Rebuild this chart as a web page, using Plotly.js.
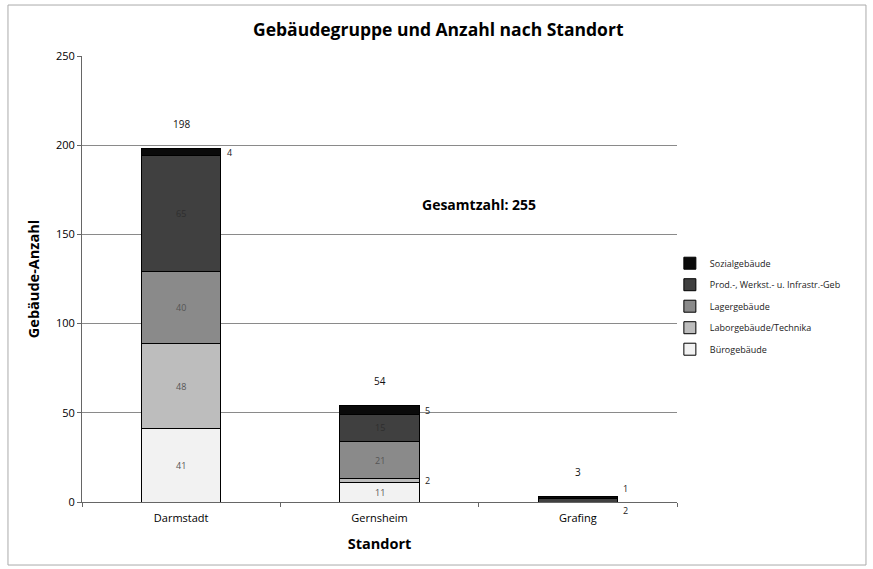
<!DOCTYPE html>
<html><head><meta charset="utf-8">
<script src="https://cdn.plot.ly/plotly-3.0.1.min.js"></script>
<style>html,body{margin:0;padding:0;background:#fff;}#chart{width:873px;height:569px;}</style>
</head><body><div id="chart"></div>
<script>
const standorte = ["Darmstadt", "Gernsheim", "Grafing"];
const buero = [41, 11, 0];
const labor = [48, 2, 0];
const lager = [40, 21, 0];
const prod = [65, 15, 2];
const sozial = [4, 5, 1];
const seriesNames = ["Bürogebäude", "Laborgebäude/Technika", "Lagergebäude", "Prod.-, Werkst.- u. Infrastr.-Geb", "Sozialgebäude"];
const seriesColors = ["#f2f2f2", "#bdbdbd", "#8a8a8a", "#404040", "#0a0a0a"];
const gesamt = 255;

const series = [buero, labor, lager, prod, sozial];
const traces = series.map((vals, i) => ({
  type: "bar", x: standorte, y: vals, name: seriesNames[i], legendgroup: "g" + i, legendrank: series.length - i,
  marker: {color: seriesColors[i], line: {color: "#000", width: 1}},
  width: 0.4, hoverinfo: "none"
}));

const ann = [];
const labelFont = {family: "Open Sans, sans-serif", size: 9, color: "#333"};
standorte.forEach((s, ci) => {
  let cum = 0;
  const smallOnes = [];
  series.forEach((vals, si) => {
    const v = vals[ci];
    if (v > 0) {
      const mid = cum + v / 2;
      if (v >= 10) {
        ann.push({x: s, y: mid, text: String(v), showarrow: false, font: {...labelFont, color: si >= 3 ? "#2e2e2e" : "#555"}});
      } else {
        smallOnes.push({v, mid, si});
      }
    }
    cum += v;
  });
  smallOnes.forEach((o) => {
    let ys = 0;
    if (ci === 2) ys = (o.si === 4) ? 9 : -10;
    ann.push({x: s, y: o.mid, text: String(o.v), showarrow: false, xshift: 48, yshift: ys, font: {...labelFont, color: "#222"}});
  });
  ann.push({x: s, y: cum, text: String(cum), showarrow: false, yshift: 25, font: {...labelFont, size: 10, color: "#111"}});
});
ann.push({x: 1.5, y: 167, text: "<b>Gesamtzahl: " + gesamt + "</b>", showarrow: false, font: {family: "Open Sans, sans-serif", size: 14, color: "#000"}});

const layout = {
  width: 873, height: 569,
  margin: {l: 82, r: 196, t: 56, b: 67},
  paper_bgcolor: "#fff", plot_bgcolor: "#fff",
  barmode: "stack", bargap: 0.6,
  title: {text: "<b>Gebäudegruppe und Anzahl nach Standort</b>", x: 0.502, xref: "container", y: 0.947, yanchor: "middle", xanchor: "center",
          font: {family: "Open Sans, sans-serif", size: 17.5, color: "#000"}},
  font: {family: "Open Sans, sans-serif", color: "#000"},
  xaxis: {title: {text: "<b>Standort</b>", font: {size: 14.5, color: "#000"}, standoff: 14},
          showline: true, linecolor: "#666", linewidth: 1, ticks: "outside", tickson: "boundaries", ticklen: 4, tickcolor: "#666",
          ticklabelstandoff: 6, tickfont: {size: 11, color: "#000"}, showgrid: false},
  yaxis: {title: {text: "<b>Gebäude-Anzahl</b>", font: {size: 14.5, color: "#000"}, standoff: 12},
          range: [0, 250], dtick: 50, showgrid: true, gridcolor: "#8a8a8a", gridwidth: 1,
          showline: true, linecolor: "#666", linewidth: 1, ticks: "outside", ticklen: 4, tickcolor: "#666",
          tickfont: {size: 11, color: "#000"}, zeroline: false},
  legend: {x: 0.988, xanchor: "left", y: 0.439, yanchor: "middle", traceorder: "grouped", tracegroupgap: 2.5,
           font: {size: 9, color: "#222"}, itemwidth: 30, bgcolor: "rgba(0,0,0,0)"},
  annotations: ann,
  shapes: [{type: "rect", xref: "paper", yref: "paper", x0: -0.1244, x1: 1.3176, y0: -0.1413, y1: 1.1143,
            line: {color: "#aaa", width: 1}, fillcolor: "rgba(0,0,0,0)"}]
};
Plotly.newPlot("chart", traces, layout, {displayModeBar: false, staticPlot: true});
</script></body></html>
